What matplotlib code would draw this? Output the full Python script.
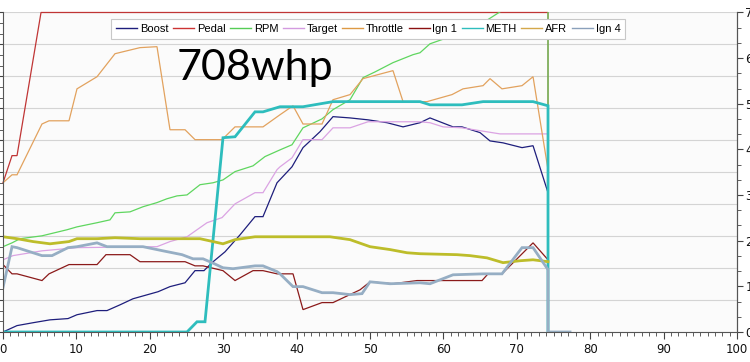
import matplotlib
matplotlib.use("Agg")
import matplotlib.pyplot as plt
from matplotlib.lines import Line2D
from matplotlib.ticker import MultipleLocator

# data (x = time, y = percent of left scale)
boost_t = [0, 1.91, 4.09, 6.40, 8.86, 10.08, 12.81, 14.17, 15.94, 17.71, 21.12, 22.75, 24.80, 26.16,
           27.38, 28.47, 30.25, 32.29, 34.33, 35.42, 37.33, 37.74, 39.37, 40.87, 43.19, 44.96, 47.28,
           49.73, 52.32, 54.50, 56.81, 58.17, 61.31, 62.53, 64.99, 66.35, 68.12, 70.71, 72.21, 74.25, 74.25]
boost = [0, 2.0, 2.9, 3.8, 4.2, 5.4, 6.7, 6.7, 8.5, 10.4, 12.6, 14.2, 15.4, 19.2,
         19.2, 21.7, 25.1, 30.4, 36.1, 36.1, 46.7, 47.7, 51.7, 57.7, 62.7, 67.4, 67.0,
         66.4, 65.5, 64.2, 65.5, 67.0, 64.2, 64.2, 62.4, 59.8, 59.2, 57.7, 58.3, 43.6, 0]

pedal_t = [0, 1.23, 1.91, 5.18, 74.25, 74.25]
pedal = [46.7, 55.2, 55.2, 100, 100, 0]

rpm_t = [0, 1.23, 2.32, 5.31, 8.72, 10.08, 12.81, 14.58, 15.26, 17.30, 19.07, 20.98, 22.34, 23.71,
         25.07, 26.84, 28.61, 29.97, 31.61, 34.06, 35.69, 37.74, 39.37, 40.87, 43.46, 44.96, 47.28,
         49.05, 50.68, 53.13, 55.86, 56.81, 58.17, 60.90, 64.99, 67.71, 71.12, 74.25, 74.25]
rpm = [26.7, 27.9, 29.2, 30.1, 32.0, 32.9, 34.2, 35.1, 37.3, 37.6, 39.2, 40.5, 41.7, 42.6,
       42.9, 46.1, 46.7, 47.6, 50.2, 52.0, 54.9, 57.0, 58.6, 63.9, 66.7, 69.6, 72.7,
       79.6, 81.4, 84.3, 86.8, 87.4, 90.2, 92.4, 96.2, 100.2, 107, 110, 0]

target_t = [0, 1.36, 5.31, 10.08, 20.98, 22.75, 25.07, 27.79, 29.84, 31.61, 34.33, 35.42, 37.33, 37.74,
            39.37, 40.87, 43.46, 44.96, 47.28, 49.73, 56.81, 58.17, 59.95, 62.53, 64.99, 67.71, 74.25, 74.25]
target = [22.6, 23.9, 25.4, 26.4, 26.7, 28.3, 29.8, 34.2, 35.8, 40.1, 43.6, 43.6, 50.8, 51.7,
          54.5, 60.2, 60.2, 63.9, 63.9, 65.8, 65.8, 65.5, 64.2, 63.9, 63.0, 62.0, 62.0, 0]

throttle_t = [0, 1.23, 1.91, 5.31, 6.27, 8.99, 10.08, 12.81, 15.26, 18.66, 20.98, 22.75, 24.80, 26.16,
              29.84, 31.61, 35.42, 37.74, 39.51, 40.87, 43.46, 44.96, 47.28, 49.05, 53.13, 54.50, 57.77,
              61.17, 62.67, 65.40, 66.35, 67.98, 70.71, 72.21, 74.25, 74.25]
throttle = [46.7, 49.2, 49.2, 65.1, 66.1, 66.1, 76.1, 79.9, 87.1, 89.0, 89.3, 63.3, 63.3, 60.2,
            60.2, 64.2, 64.2, 68.0, 70.8, 65.1, 65.1, 72.7, 74.3, 79.3, 81.8, 72.1, 72.1,
            74.3, 76.1, 77.1, 79.3, 76.1, 77.1, 79.9, 50.8, 0]

ign1_t = [0, 1.23, 1.91, 5.31, 6.27, 8.99, 12.81, 14.03, 17.30, 18.66, 24.80, 26.16, 27.25, 29.97,
          31.61, 34.06, 35.42, 37.33, 39.51, 40.87, 43.46, 44.96, 48.64, 50.00, 53.13, 56.40, 65.26,
          66.08, 67.98, 72.21, 74.25, 74.25]
ign1 = [21.1, 18.2, 18.2, 16.1, 18.2, 21.1, 21.1, 24.2, 24.2, 22.0, 22.0, 20.7, 20.7, 19.2,
        16.1, 19.2, 19.2, 18.2, 18.2, 7.0, 9.2, 9.2, 13.2, 15.7, 15.1, 16.1, 16.1,
        18.2, 18.2, 27.9, 22.6, 0]

meth_t = [0, 25.07, 26.43, 27.52, 29.97, 31.61, 34.33, 35.42, 37.74, 40.87, 44.96, 56.81, 58.17,
          62.53, 65.40, 72.21, 74.25, 74.25]
meth = [0, 0, 3.2, 3.2, 60.8, 61.1, 68.9, 68.9, 70.5, 70.5, 72.1, 72.1, 71.1,
        71.1, 72.1, 72.1, 70.8, 0]

afr_t = [0, 1.91, 4.09, 6.40, 8.99, 10.08, 12.81, 15.26, 18.66, 26.84, 28.61, 29.97, 31.61, 34.33,
         37.74, 40.05, 44.55, 47.28, 50.00, 52.72, 55.04, 56.81, 61.85, 63.62, 65.94, 68.12, 70.44,
         72.21, 74.25]
afr = [29.8, 29.2, 28.3, 27.6, 28.3, 29.2, 29.2, 29.5, 29.2, 29.2, 28.3, 27.6, 28.9, 29.8,
       29.8, 29.8, 29.8, 28.9, 26.7, 25.8, 24.8, 24.5, 24.2, 23.9, 23.2, 21.7, 22.3,
       22.6, 22.0]

ign4_t = [0, 1.23, 1.91, 5.31, 6.68, 8.86, 10.08, 12.81, 14.17, 19.07, 21.80, 24.39, 25.89, 27.25,
          28.47, 29.97, 31.34, 34.33, 35.42, 37.33, 37.74, 39.51, 40.87, 43.46, 44.96, 47.28, 48.91,
          50.00, 52.72, 56.81, 58.17, 61.31, 65.40, 67.98, 70.71, 72.21, 74.25, 74.25, 77.25]
ign4 = [13.9, 26.7, 26.4, 23.9, 23.9, 26.4, 26.7, 27.9, 26.7, 26.7, 25.4, 24.2, 22.9, 22.9,
        21.7, 20.1, 19.8, 20.7, 20.7, 18.9, 18.2, 14.2, 14.2, 12.3, 12.3, 11.7, 12.0,
        15.7, 15.1, 15.4, 15.1, 17.9, 18.2, 18.2, 26.4, 26.4, 19.5, 0, 0]

series = [
    ("Boost", boost_t, boost, "#1e1e7c", 0.9),
    ("Pedal", pedal_t, pedal, "#c03535", 0.9),
    ("RPM", rpm_t, rpm, "#5fd65f", 0.9),
    ("Target", target_t, target, "#dba3e3", 0.9),
    ("Throttle", throttle_t, throttle, "#e2a25e", 0.9),
    ("Ign 1", ign1_t, ign1, "#8b1a1a", 0.9),
    ("METH", meth_t, meth, "#2ebdbd", 2.0),
    ("AFR", afr_t, afr, "#bdbd2a", 2.0),
    ("Ign 4", ign4_t, ign4, "#96aec4", 2.0),
]
legend_colors = ["#1e1e7c", "#cc3333", "#55cc55", "#d39ae0", "#dd9944",
                 "#8b1010", "#2ebdbd", "#d4a84a", "#8aa0bb"]

fig = plt.figure(figsize=(7.5, 3.62), dpi=100)
ax = fig.add_axes([0.004, 0.0829, 0.9787, 0.8826])
ax.set_facecolor("#fbfbfb")

for name, t, v, c, lw in series:
    ax.plot(t, v, color=c, lw=lw, clip_on=(name != "Pedal"), solid_joinstyle="miter")

ax.set_xlim(0, 100)
ax.set_ylim(0, 100)
ax.yaxis.set_major_locator(MultipleLocator(10))
ax.yaxis.set_minor_locator(MultipleLocator(10 / 3))
ax.xaxis.set_major_locator(MultipleLocator(10))
ax.xaxis.set_minor_locator(MultipleLocator(1))
ax.grid(axis="y", color="#d4d4d4", lw=0.8)
ax.set_axisbelow(True)
ax.tick_params(axis="y", which="both", direction="out", length=3, color="#444444", labelleft=False)
ax.tick_params(axis="x", which="major", direction="out", length=5, color="#444444",
               labelsize=8.5, labelcolor="#111111", pad=3)
ax.tick_params(axis="x", which="minor", direction="out", length=3, color="#444444")
ax.spines["top"].set_visible(False)
for s in ["left", "bottom", "right"]:
    ax.spines[s].set_color("#555555")
    ax.spines[s].set_linewidth(0.8)

# right scale, labels run off the edge like in the screenshot
ax2 = ax.twinx()
ax2.set_ylim(0, 7)
ax2.yaxis.set_major_locator(MultipleLocator(1))
ax2.yaxis.set_minor_locator(MultipleLocator(1 / 3))
ax2.tick_params(axis="y", which="major", direction="out", length=4.5, color="#444444",
                labelsize=8.5, labelcolor="#111111", pad=1.5)
ax2.tick_params(axis="y", which="minor", direction="out", length=3, color="#444444")
for s in ["top", "left", "bottom"]:
    ax2.spines[s].set_visible(False)
ax2.spines["right"].set_color("#555555")
ax2.spines["right"].set_linewidth(0.8)

handles = [Line2D([], [], color=c, lw=1) for c in legend_colors]
labels = [s[0] for s in series]
leg = fig.legend(handles, labels, loc="center", bbox_to_anchor=(0.491, 0.92), ncol=9,
                 prop={"family": "Liberation Sans", "size": 8}, handlelength=1.9,
                 handletextpad=0.25, columnspacing=0.4, borderpad=0.45,
                 fancybox=False, framealpha=1, edgecolor="#c8c8c8")
leg.get_frame().set_linewidth(0.8)

fig.text(177 / 750, 1 - 80 / 362, "708whp", ha="left", va="baseline",
         fontsize=31, family="Lato", color="black")

fig.savefig("out.png", dpi=100, facecolor="white")
